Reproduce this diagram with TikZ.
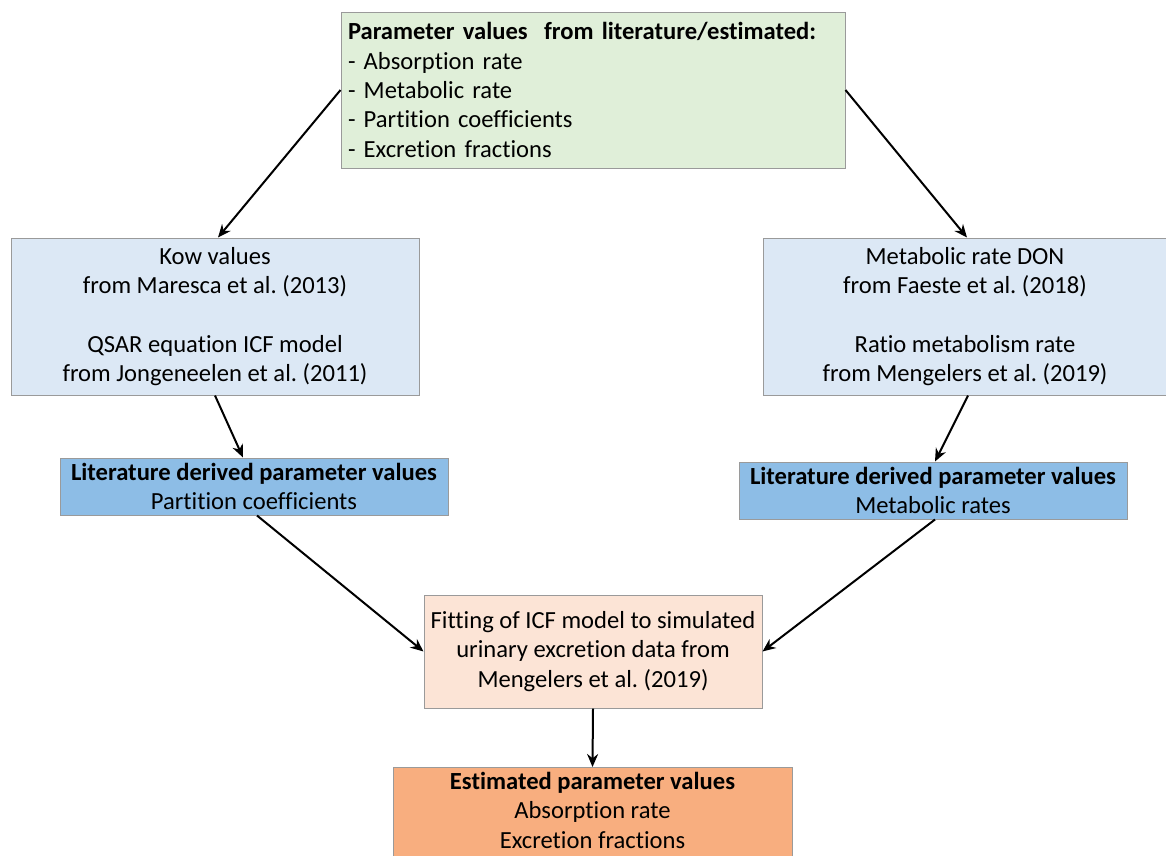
\documentclass[tikz,border=0pt]{standalone}
\usepackage{fontspec}
\setmainfont{Carlito}[Ligatures=NoCommon]
\frenchspacing
\usetikzlibrary{arrows.meta,calc}
\definecolor{cgreen}{HTML}{E0EFD9}
\definecolor{clblue}{HTML}{DCE8F5}
\definecolor{cdblue}{HTML}{8DBDE6}
\definecolor{cpeach}{HTML}{FCE4D6}
\definecolor{corange}{HTML}{F8AE7F}
\definecolor{cborder}{HTML}{9A9A9A}
\tikzset{
  box/.style={draw=cborder, line width=1pt, inner sep=0pt, align=center,
    font=\fontsize{24.6}{29.3}\selectfont},
  arr/.style={line width=2pt, -{Stealth[length=13pt,width=11pt]}}
}
\begin{document}
\begin{tikzpicture}[x=1pt,y=-1pt]
\clip (0,0) rectangle (1166,855);
\fill[white] (0,0) rectangle (1166,855);
\node[box, fill=cgreen, minimum width=504, minimum height=156, text width=490, align=left] (top) at (593,90)
  {\textbf{Parameter values\ \ from literature/estimated:}\\- Absorption rate\\- Metabolic rate\\- Partition coefficients\\- Excretion fractions};
\node[box, fill=clblue, minimum width=408, minimum height=157] (lb) at (215,316.5)
  {Kow values\\from Maresca et al. (2013)\\[29.3pt]QSAR equation ICF model\\from Jongeneelen et al. (2011)};
\node[box, fill=clblue, minimum width=404, minimum height=157] (rb) at (965,316.5)
  {Metabolic rate DON\\from Faeste et al. (2018)\\[29.3pt]Ratio metabolism rate\\from Mengelers et al. (2019)};
\node[box, fill=cdblue, minimum width=388, minimum height=57] (ld) at (254,486.5)
  {\textbf{Literature derived parameter values}\\Partition coefficients};
\node[box, fill=cdblue, minimum width=388, minimum height=57] (rd) at (933,490.5)
  {\textbf{Literature derived parameter values}\\Metabolic rates};
\node[box, fill=cpeach, minimum width=338, minimum height=113] (fit) at (593,651.5)
  {Fitting of ICF model to simulated\\urinary excretion data from\\Mengelers et al. (2019)};
\node[box, fill=corange, minimum width=399, inner ysep=5pt, minimum height=110, anchor=north, text depth=0pt] (est) at (592.5,767)
  {};
\node[font=\fontsize{24.6}{29.3}\selectfont, align=center, inner sep=0pt, anchor=north] (estt) at ($(est.north)+(0,5)$)
  {\textbf{Estimated parameter values}\\Absorption rate\\Excretion fractions};
\draw[arr] (top.west) -- ($(lb.north)+(3,0)$);
\draw[arr] (top.east) -- ($(rb.north)+(2,0)$);
\draw[arr] (lb.south) -- ($(ld.north)+(-11,0)$);
\draw[arr] ($(rb.south)+(3,0)$) -- ($(rd.north)+(2,0)$);
\draw[arr] ($(ld.south)+(3,0)$) -- (fit.west);
\draw[arr] ($(rd.south)+(2,0)$) -- (fit.east);
\draw[arr] (fit.south) -- (est.north);
\end{tikzpicture}
\end{document}
